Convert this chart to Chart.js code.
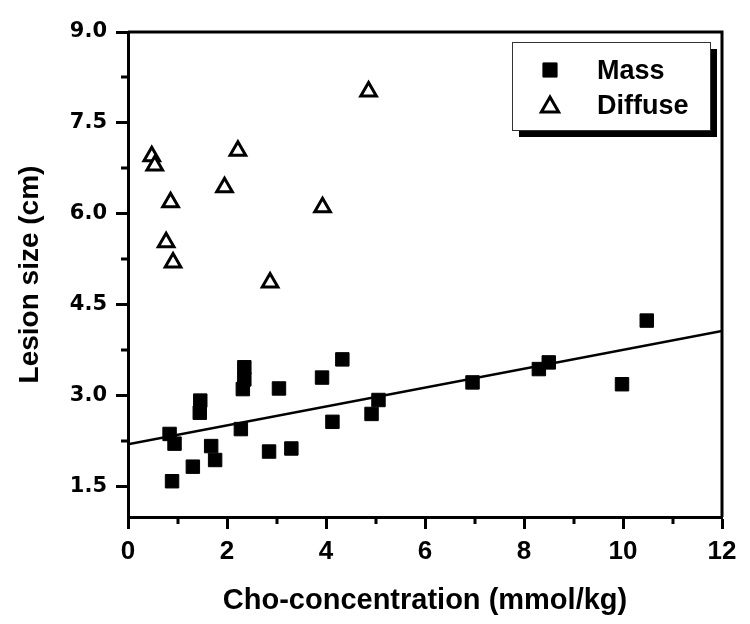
<!DOCTYPE html>
<html>
<head>
<meta charset="utf-8">
<script src="https://cdn.jsdelivr.net/npm/chart.js@4.4.1/dist/chart.umd.min.js"></script>
<style>
  html, body { margin: 0; padding: 0; background: #fff; }
  canvas { display: block; }
</style>
</head>
<body>
<canvas id="lesion-chart" width="750" height="624"></canvas>
<script>
// values
const massX = [0.84, 0.94, 0.89, 1.31, 1.46, 1.45, 1.68, 1.76, 2.28, 2.35, 2.35, 2.32, 3.05, 2.85, 3.30, 3.92, 4.33, 4.13, 5.06, 4.92, 6.96, 8.30, 8.50, 9.98, 10.48];
const massY = [2.37, 2.21, 1.59, 1.83, 2.92, 2.72, 2.17, 1.94, 2.45, 3.47, 3.27, 3.11, 3.12, 2.08, 2.13, 3.30, 3.60, 2.57, 2.93, 2.70, 3.22, 3.44, 3.55, 3.19, 4.24];

const diffuseX = [0.48, 0.54, 0.86, 0.77, 0.91, 2.22, 1.95, 3.93, 2.87, 4.86];
const diffuseY = [6.95, 6.80, 6.19, 5.53, 5.20, 7.04, 6.44, 6.11, 4.87, 8.02];

// linear fit of the mass group, drawn across the axis
const fitX = [0, 12];
const fitY = [2.20, 4.07];

const xTicks = [0, 2, 4, 6, 8, 10, 12];
const xMinor = [1, 3, 5, 7, 9, 11];
const yTicks = [1.5, 3.0, 4.5, 6.0, 7.5, 9.0];
const yMinor = [2.25, 3.75, 5.25, 6.75, 8.25];

const toPoints = (xs, ys) => xs.map((x, i) => ({ x, y: ys[i] }));

// box on top/right, minor ticks, legend with drop shadow
const framePlugin = {
  id: 'frame',
  beforeDatasetsDraw(chart) {
    const { ctx, chartArea } = chart;
    ctx.save();
    ctx.strokeStyle = '#000';
    ctx.lineWidth = 3;
    ctx.beginPath();
    ctx.moveTo(chartArea.left, chartArea.top);
    ctx.lineTo(chartArea.right, chartArea.top);
    ctx.lineTo(chartArea.right, chartArea.bottom);
    ctx.stroke();

    // minor ticks
    const xs = chart.scales.x;
    const ys = chart.scales.y;
    ctx.beginPath();
    xMinor.forEach((v) => {
      const px = Math.round(xs.getPixelForValue(v));
      ctx.moveTo(px, chartArea.bottom);
      ctx.lineTo(px, chartArea.bottom + 7);
    });
    yMinor.forEach((v) => {
      const py = Math.round(ys.getPixelForValue(v));
      ctx.moveTo(chartArea.left, py);
      ctx.lineTo(chartArea.left - 7, py);
    });
    ctx.stroke();
    ctx.restore();
  },
  afterDraw(chart) {
    const { ctx } = chart;
    const box = { x: 512, y: 42, w: 198, h: 88 };
    ctx.save();
    ctx.fillStyle = '#000';
    ctx.fillRect(box.x + 7, box.y + 7, box.w, box.h);
    ctx.fillStyle = '#fff';
    ctx.fillRect(box.x, box.y, box.w, box.h);
    ctx.strokeStyle = '#333';
    ctx.lineWidth = 1;
    ctx.strokeRect(box.x + 0.5, box.y + 0.5, box.w, box.h);

    const rows = [70, 105];
    chart.data.datasets.slice(0, 2).forEach((ds, i) => {
      ctx.fillStyle = ds.backgroundColor;
      ctx.strokeStyle = ds.borderColor;
      ctx.lineWidth = ds.borderWidth;
      Chart.helpers.drawPoint(ctx, { pointStyle: ds.pointStyle, radius: 10, borderWidth: ds.borderWidth }, 550, rows[i] + (i === 1 ? 2 : 0));
      ctx.fillStyle = '#000';
      ctx.font = 'bold 27px "Liberation Sans", Arial, sans-serif';
      ctx.textBaseline = 'alphabetic';
      ctx.textAlign = 'left';
      ctx.fillText(ds.label, 597, rows[i] + 9);
    });
    ctx.restore();
  }
};

const ctx = document.getElementById('lesion-chart').getContext('2d');

new Chart(ctx, {
  type: 'scatter',
  data: {
    datasets: [
      {
        label: 'Mass',
        data: toPoints(massX, massY),
        pointStyle: 'rect',
        pointRadius: 9.5,
        backgroundColor: '#000',
        borderColor: '#000',
        borderWidth: 1,
        order: 1,
      },
      {
        label: 'Diffuse',
        data: toPoints(diffuseX, diffuseY),
        pointStyle: 'triangle',
        pointRadius: 9,
        backgroundColor: '#fff',
        borderColor: '#000',
        borderWidth: 3,
        order: 1,
      },
      {
        label: 'fit',
        type: 'line',
        data: toPoints(fitX, fitY),
        showLine: true,
        pointRadius: 0,
        borderColor: '#000',
        borderWidth: 2.5,
        fill: false,
        order: 2,
      },
    ],
  },
  options: {
    responsive: false,
    animation: false,
    devicePixelRatio: 1,
    layout: { padding: { top: 32, right: 28, left: 0, bottom: 0 } },
    plugins: {
      legend: { display: false },
      tooltip: { enabled: false },
    },
    scales: {
      x: {
        type: 'linear',
        min: 0,
        max: 12,
        afterBuildTicks: (scale) => { scale.ticks = xTicks.map((v) => ({ value: v })); },
        afterFit: (scale) => { scale.height = 107; },
        grid: { drawOnChartArea: false, tickLength: 12, tickWidth: 3, tickColor: '#000' },
        border: { display: true, width: 3, color: '#000' },
        ticks: {
          color: '#000',
          padding: 7,
          maxRotation: 0,
          font: { family: '"Liberation Sans Narrow", "Liberation Sans", Arial, sans-serif', size: 26, weight: 'bold' },
        },
        title: {
          display: true,
          text: 'Cho-concentration (mmol/kg)',
          color: '#000',
          padding: { top: 0, bottom: 6 },
          font: { family: '"Liberation Sans", Arial, sans-serif', size: 29, weight: 'bold' },
        },
      },
      y: {
        type: 'linear',
        min: 1,
        max: 9,
        afterBuildTicks: (scale) => { scale.ticks = yTicks.map((v) => ({ value: v })); },
        afterFit: (scale) => { scale.width = 128; },
        grid: { drawOnChartArea: false, tickLength: 12, tickWidth: 3, tickColor: '#000' },
        border: { display: true, width: 3, color: '#000' },
        ticks: {
          color: '#000',
          padding: 9,
          callback: (v) => Number(v).toFixed(1),
          font: { family: '"DejaVu Sans", sans-serif', size: 21, weight: 'bold' },
        },
        title: {
          display: true,
          text: 'Lesion size (cm)',
          color: '#000',
          padding: { top: 13, bottom: 0 },
          font: { family: '"Liberation Sans", Arial, sans-serif', size: 28, weight: 'bold' },
        },
      },
    },
  },
  plugins: [framePlugin],
});
</script>
</body>
</html>
